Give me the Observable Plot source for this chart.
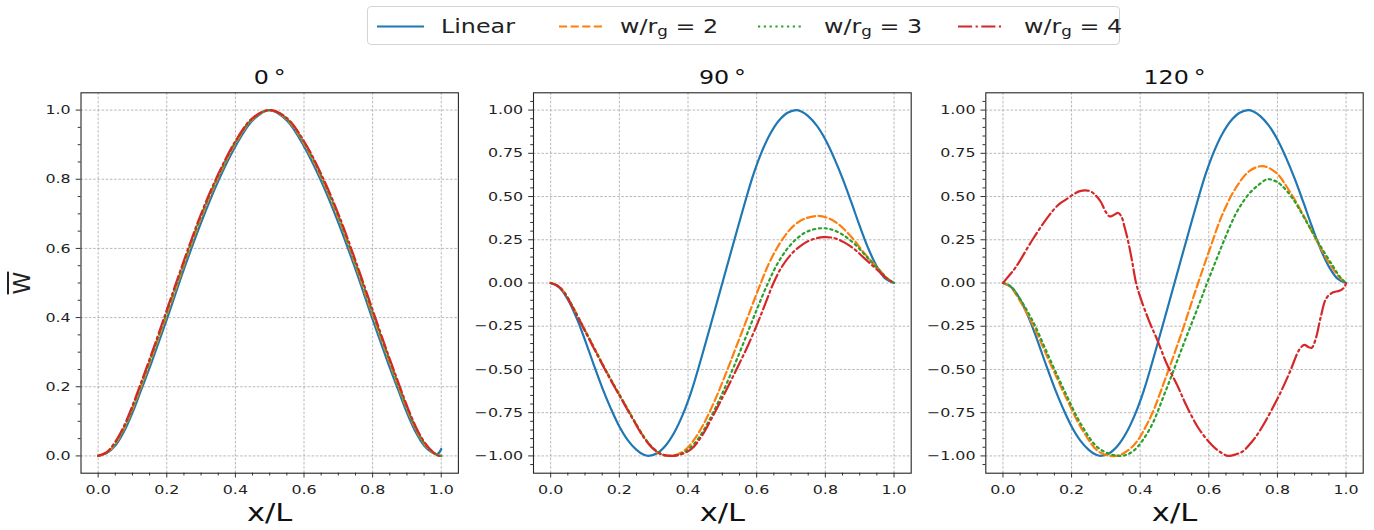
<!DOCTYPE html>
<html><head><meta charset="utf-8">
<script src="https://cdn.jsdelivr.net/npm/d3@7"></script>
<script src="https://cdn.jsdelivr.net/npm/@observablehq/plot@0.6"></script>
<style>
body{margin:0;background:#fff;}
#root{position:relative;width:1374px;height:530px;font-family:"DejaVu Sans",sans-serif;color:#222;overflow:hidden;background:#fff}
.panel{position:absolute;top:0}
#legend{position:absolute;left:367px;top:6px;width:753px;height:39px;border:1px solid #d4d4d4;border-radius:4px;background:#fff;box-sizing:border-box}
.lt{position:absolute;top:0;height:39px;line-height:39px;font-size:19.5px;white-space:nowrap;transform-origin:left center;transform:scaleX(1.22)}
.lt sub{font-size:0.7em;vertical-align:-0.25em;line-height:0}
.ls{position:absolute;top:0}
#ylab{position:absolute;left:22px;top:283px;font-size:23px;text-decoration:overline;transform:translate(-50%,-50%) rotate(-90deg);white-space:nowrap}
</style></head><body><div id="root"><div id="legend"></div><div id="ylab">W</div></div>
<script>
// ---------- data ----------
const seriesNames = ["Linear", "w/r_g = 2", "w/r_g = 3", "w/r_g = 4"];
const seriesColors = ["#1f77b4", "#ff7f0e", "#2ca02c", "#d62728"];
const seriesDash = [null, "8.1,3.5", "2.2,3.6", "14.1,3.5,2.2,3.5"];
const panelTitles = ["0\u2009°", "90\u2009°", "120\u2009°"];

const xTicks = [0, 0.2, 0.4, 0.6, 0.8, 1.0];
const yTicks0 = [0, 0.2, 0.4, 0.6, 0.8, 1.0];
const yTicks90 = [-1, -0.75, -0.5, -0.25, 0, 0.25, 0.5, 0.75, 1];

// 0 degrees (shared x samples)
const p0X = [0,0.025,0.05,0.075,0.1,0.125,0.15,0.175,0.2,0.25,0.3,0.35,0.4,0.45,0.5,0.55,0.6,0.65,0.7,0.75,0.8,0.825,0.85,0.875,0.9,0.925,0.95,0.975,0.99,1];
const p0Linear = [0,0.008,0.03,0.07,0.125,0.19,0.255,0.325,0.395,0.54,0.675,0.795,0.895,0.97,1.0,0.97,0.895,0.795,0.675,0.54,0.395,0.325,0.255,0.19,0.125,0.07,0.03,0.009,0.006,0.02];
const p0W2 = [0,0.009,0.035,0.078,0.135,0.2,0.268,0.338,0.408,0.552,0.688,0.805,0.903,0.973,1.0,0.973,0.903,0.805,0.688,0.552,0.408,0.338,0.268,0.2,0.135,0.078,0.035,0.01,0.003,0];
const p0W3 = [0,0.01,0.038,0.082,0.14,0.206,0.274,0.344,0.415,0.558,0.694,0.81,0.907,0.975,1.0,0.975,0.907,0.81,0.694,0.558,0.415,0.344,0.274,0.206,0.14,0.082,0.038,0.011,0.002,0];
const p0W4 = [0,0.011,0.041,0.086,0.145,0.212,0.28,0.35,0.422,0.565,0.70,0.815,0.91,0.977,1.0,0.977,0.91,0.815,0.70,0.565,0.422,0.35,0.28,0.212,0.145,0.086,0.041,0.012,0.001,0];

// Linear mode (90 and 120 degrees)
const linearMode = [[0,0],[0.025,-0.025],[0.05,-0.095],[0.075,-0.2],[0.1,-0.33],[0.125,-0.47],[0.15,-0.605],[0.175,-0.725],[0.2,-0.83],[0.225,-0.91],[0.25,-0.965],[0.27,-0.992],[0.285,-1.0],[0.31,-0.985],[0.335,-0.94],[0.36,-0.865],[0.385,-0.76],[0.41,-0.625],[0.435,-0.46],[0.46,-0.285],[0.48,-0.143],[0.5,0],[0.52,0.143],[0.54,0.285],[0.565,0.46],[0.59,0.625],[0.615,0.76],[0.64,0.865],[0.665,0.94],[0.69,0.985],[0.715,1.0],[0.73,0.992],[0.75,0.965],[0.775,0.91],[0.8,0.83],[0.825,0.725],[0.85,0.605],[0.875,0.47],[0.9,0.33],[0.925,0.2],[0.95,0.095],[0.975,0.025],[1,0]];

// 90 degrees
const p90W2 = [[0,0],[0.02,-0.015],[0.04,-0.055],[0.065,-0.14],[0.09,-0.235],[0.12,-0.35],[0.15,-0.465],[0.18,-0.575],[0.21,-0.68],[0.24,-0.785],[0.27,-0.885],[0.295,-0.95],[0.32,-0.99],[0.344,-1.0],[0.37,-0.99],[0.395,-0.96],[0.42,-0.9],[0.447,-0.81],[0.48,-0.67],[0.515,-0.5],[0.545,-0.345],[0.58,-0.165],[0.612,0],[0.635,0.11],[0.66,0.205],[0.685,0.28],[0.71,0.335],[0.74,0.372],[0.777,0.388],[0.805,0.378],[0.835,0.345],[0.86,0.3],[0.885,0.245],[0.91,0.18],[0.935,0.125],[0.96,0.07],[0.98,0.027],[1,0]];
const p90W3 = [[0,0],[0.02,-0.015],[0.04,-0.055],[0.065,-0.14],[0.09,-0.235],[0.12,-0.35],[0.15,-0.465],[0.18,-0.575],[0.21,-0.68],[0.24,-0.785],[0.27,-0.885],[0.295,-0.948],[0.322,-0.988],[0.35,-1.0],[0.378,-0.99],[0.405,-0.955],[0.43,-0.9],[0.46,-0.8],[0.495,-0.66],[0.53,-0.5],[0.565,-0.33],[0.6,-0.155],[0.633,0],[0.66,0.11],[0.69,0.2],[0.72,0.262],[0.75,0.3],[0.79,0.317],[0.82,0.308],[0.85,0.28],[0.88,0.235],[0.91,0.175],[0.935,0.12],[0.96,0.068],[0.98,0.027],[1,0]];
const p90W4 = [[0,0],[0.02,-0.016],[0.04,-0.058],[0.065,-0.145],[0.09,-0.24],[0.12,-0.355],[0.15,-0.47],[0.18,-0.58],[0.21,-0.685],[0.24,-0.79],[0.27,-0.89],[0.295,-0.952],[0.322,-0.99],[0.35,-1.0],[0.38,-0.99],[0.41,-0.96],[0.44,-0.885],[0.471,-0.775],[0.51,-0.625],[0.546,-0.48],[0.575,-0.36],[0.602,-0.235],[0.626,-0.115],[0.649,0],[0.672,0.09],[0.7,0.165],[0.73,0.218],[0.76,0.25],[0.795,0.265],[0.825,0.26],[0.855,0.235],[0.885,0.195],[0.91,0.15],[0.935,0.105],[0.96,0.06],[0.98,0.024],[1,0]];

// 120 degrees
const p120W2 = [[0,0],[0.02,-0.018],[0.037,-0.063],[0.086,-0.236],[0.134,-0.448],[0.183,-0.659],[0.232,-0.851],[0.28,-0.976],[0.329,-1.0],[0.377,-0.947],[0.426,-0.793],[0.475,-0.544],[0.523,-0.275],[0.562,-0.04],[0.601,0.186],[0.64,0.398],[0.679,0.551],[0.718,0.647],[0.757,0.676],[0.796,0.638],[0.835,0.532],[0.874,0.398],[0.912,0.254],[0.951,0.115],[0.98,0.035],[1,0]];
const p120W3 = [[0,0],[0.02,-0.015],[0.037,-0.054],[0.086,-0.217],[0.134,-0.428],[0.183,-0.64],[0.232,-0.832],[0.28,-0.957],[0.339,-1.0],[0.377,-0.976],[0.426,-0.851],[0.475,-0.62],[0.523,-0.371],[0.572,-0.121],[0.595,0],[0.62,0.125],[0.64,0.225],[0.66,0.32],[0.68,0.405],[0.7,0.47],[0.72,0.522],[0.745,0.567],[0.77,0.6],[0.79,0.593],[0.81,0.568],[0.844,0.49],[0.883,0.36],[0.922,0.225],[0.961,0.1],[0.985,0.028],[1,0]];
const p120W4 = [[0,0],[0.0175,0.042],[0.037,0.09],[0.086,0.25],[0.134,0.39],[0.163,0.455],[0.183,0.482],[0.205,0.512],[0.222,0.53],[0.241,0.536],[0.255,0.53],[0.266,0.515],[0.285,0.47],[0.3,0.41],[0.311,0.385],[0.322,0.392],[0.336,0.405],[0.345,0.385],[0.355,0.32],[0.365,0.24],[0.377,0.12],[0.388,0.0],[0.4,-0.08],[0.426,-0.22],[0.45,-0.33],[0.478,-0.47],[0.51,-0.6],[0.535,-0.71],[0.57,-0.84],[0.61,-0.94],[0.635,-0.98],[0.657,-1.0],[0.68,-0.99],[0.698,-0.975],[0.725,-0.92],[0.75,-0.85],[0.8,-0.67],[0.835,-0.52],[0.864,-0.385],[0.878,-0.358],[0.89,-0.37],[0.9,-0.375],[0.912,-0.32],[0.927,-0.19],[0.942,-0.09],[0.961,-0.055],[0.981,-0.045],[0.995,-0.025],[1,0]];

// ---------- build ----------
const S = 1.22; // horizontal text stretch of the original figure
const root = document.getElementById("root");
const font = '"DejaVu Sans", sans-serif';

const p0Series = [p0Linear, p0W2, p0W3, p0W4].map(ys => ys.map((y, i) => [p0X[i], y]));
const panels = [
  {left: 0, width: 470, ml: 80.5, mr: 12.1, yDomain: [-0.05, 1.05], yTicks: yTicks0, yFmt: d3.format(".1f"), series: p0Series},
  {left: 470, width: 450, ml: 63, mr: 9.3, yDomain: [-1.1, 1.1], yTicks: yTicks90, yFmt: d3.format(".2f"), series: [linearMode, p90W2, p90W3, p90W4]},
  {left: 920, width: 454, ml: 65.3, mr: 11.3, yDomain: [-1.1, 1.1], yTicks: yTicks90, yFmt: d3.format(".2f"), series: [linearMode, p120W2, p120W3, p120W4]}
];

const xMinor = d3.range(1, 21).map(k => k * 0.05).filter(v => Math.abs(v / 0.2 - Math.round(v / 0.2)) > 1e-6);

panels.forEach((p, pi) => {
  const yMinor = d3.range(Math.ceil(p.yDomain[0] / 0.05 - 1e-9), Math.floor(p.yDomain[1] / 0.05 + 1e-9) + 1)
    .map(k => k * 0.05)
    .filter(v => v > p.yDomain[0] + 1e-6 && v < p.yDomain[1] - 1e-6)
    .filter(v => !p.yTicks.some(t => Math.abs(t - v) < 1e-6));
  const gridStyle = {stroke: "#a8a8a8", strokeOpacity: 1, strokeWidth: 0.8, strokeDasharray: "2.6,1.6"};
  const marks = [
    Plot.gridX({ticks: xTicks, ...gridStyle}),
    Plot.gridY({ticks: p.yTicks, ...gridStyle}),
    Plot.axisX({ticks: xMinor, tickSize: 2.8, tickFormat: () => "", label: null, stroke: "#333"}),
    Plot.axisY({ticks: yMinor, tickSize: 2.8, tickFormat: () => "", label: null, stroke: "#333"}),
    Plot.axisX({ticks: xTicks, tickSize: 4.8, tickPadding: 7, tickFormat: d3.format(".1f"), label: null, stroke: "#333", fontSize: 13}),
    Plot.axisY({ticks: p.yTicks, tickSize: 4.8, tickPadding: 5.5, tickFormat: p.yFmt, label: null, stroke: "#333", fontSize: 13}),
    ...p.series.map((data, si) => Plot.line(data, {
      x: d => d[0], y: d => d[1], stroke: seriesColors[si], strokeWidth: 2.2,
      strokeDasharray: seriesDash[si] || undefined, curve: "catmull-rom"
    })),
    Plot.frame({stroke: "#262626", strokeWidth: 1.1}),
    Plot.text([panelTitles[pi]], {text: d => d, frameAnchor: "top", dy: -15.5, lineAnchor: "middle", fontSize: 19.5, fill: "#111"}),
    Plot.text(["x/L"], {text: d => d, frameAnchor: "bottom", dy: 40, lineAnchor: "middle", fontSize: 25, fill: "#111"})
  ];
  const svg = Plot.plot({
    width: p.width, height: 530,
    marginLeft: p.ml, marginRight: p.mr, marginTop: 92.3, marginBottom: 57.3,
    x: {domain: [-0.05, 1.05]},
    y: {domain: p.yDomain},
    style: {fontFamily: font, fontSize: "13px", color: "#222", background: "transparent", overflow: "visible"},
    marks
  });
  svg.classList.add("panel");
  svg.style.left = p.left + "px";
  svg.querySelectorAll("text").forEach(t => {
    const tr = t.getAttribute("transform");
    if (tr) t.setAttribute("transform", tr + ` scale(${S},1)`);
  });
  root.appendChild(svg);
});

// legend
const legend = document.getElementById("legend");
const legX = [[377, 424, 441], [559, 604, 620], [758, 803, 824], [958, 1003, 1024]];
seriesNames.forEach((name, i) => {
  const [x0, x1, tx] = legX[i];
  const ns = "http://www.w3.org/2000/svg";
  const s = document.createElementNS(ns, "svg");
  s.setAttribute("width", x1 - x0); s.setAttribute("height", 39);
  s.setAttribute("class", "ls");
  s.style.left = (x0 - 368) + "px";
  const l = document.createElementNS(ns, "line");
  l.setAttribute("x1", 0); l.setAttribute("x2", x1 - x0);
  l.setAttribute("y1", 19.5); l.setAttribute("y2", 19.5);
  l.setAttribute("stroke", seriesColors[i]); l.setAttribute("stroke-width", 2.2);
  if (seriesDash[i]) l.setAttribute("stroke-dasharray", seriesDash[i]);
  s.appendChild(l);
  legend.appendChild(s);
  const t = document.createElement("div");
  t.className = "lt";
  t.style.left = (tx - 368) + "px";
  const m = name.match(/^(.*)_(\w)(.*)$/);
  if (m) {
    t.appendChild(document.createTextNode(m[1]));
    const sub = document.createElement("sub"); sub.textContent = m[2]; t.appendChild(sub);
    t.appendChild(document.createTextNode(m[3]));
  } else t.textContent = name;
  legend.appendChild(t);
});
</script></body></html>
